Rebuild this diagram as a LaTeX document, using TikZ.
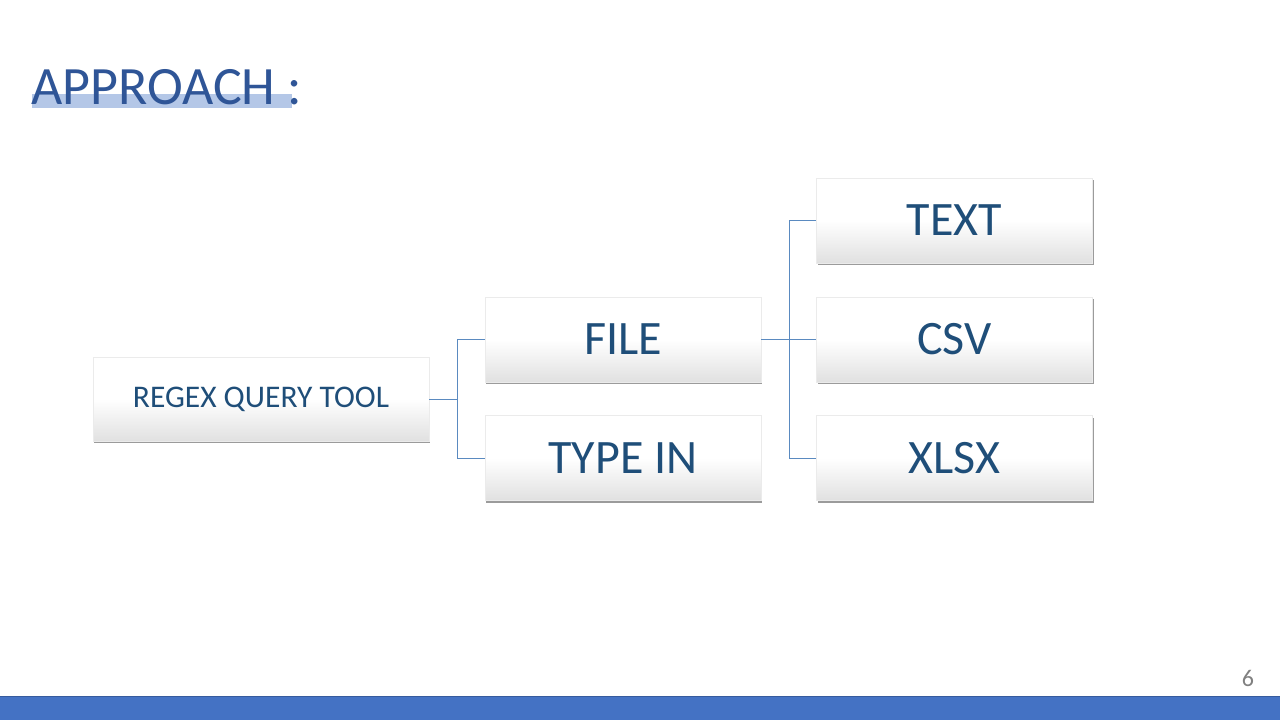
\documentclass[tikz,border=0pt]{standalone}
\usepackage{fontspec}
\setmainfont{Carlito}
\usetikzlibrary{shadows}
\definecolor{titleblue}{HTML}{2F5597}
\definecolor{hlblue}{HTML}{B4C7E7}
\definecolor{boxtext}{HTML}{1F4E79}
\definecolor{linkblue}{HTML}{5A8AC0}
\definecolor{barblue}{HTML}{4472C4}
\tikzset{
  box/.style={draw=black!8, line width=0.4pt, top color=white, bottom color=black!12,
    middle color=white, shading angle=0,
    drop shadow={opacity=0.6, shadow xshift=1.2pt, shadow yshift=-2.2pt, fill=black!65},
    minimum width=276pt, minimum height=85pt, inner sep=0pt, text=boxtext,
    font=\fontsize{48}{50}\selectfont},
  smallbox/.style={box, minimum width=336pt, minimum height=84pt, font=\fontsize{31.5}{33}\selectfont},
  link/.style={draw=linkblue, line width=1pt}
}
\begin{document}
\begin{tikzpicture}[x=1pt,y=-1pt]
\useasboundingbox[fill=white] (0,0) rectangle (1280,720);
% title
\fill[hlblue] (32,94) rectangle (292,108);
\node[anchor=base west, inner sep=0pt, text=titleblue, font=\fontsize{54}{56}\selectfont] (title) at (31,104) {APPROACH :};
% boxes
\node[smallbox] (regex) at (261,399) {REGEX QUERY TOOL};
\node[box] (file) at (623,339.5) {FILE};
\node[box] (typein) at (623,458) {TYPE IN};
\node[box] (text) at (954.5,220.5) {TEXT};
\node[box] (csv) at (954.5,339.5) {CSV};
\node[box] (xlsx) at (954.5,458) {XLSX};
% connectors
\coordinate (j1) at (457,399);
\coordinate (j2) at (789,339.5);
\draw[link] (regex.east) -- (j1) |- (file.west);
\draw[link] (j1) |- (typein.west);
\draw[link] (file.east) -- (j2) |- (text.west);
\draw[link] (j2) -- (csv.west);
\draw[link] (j2) |- (xlsx.west);
% footer
\fill[barblue] (0,696) rectangle (1280,720);
\draw[barblue!80!black, line width=0.6pt] (0,696) -- (1280,696);
\node[text=black!50, font=\fontsize{24}{26}\selectfont, inner sep=0pt] (page) at (1248,678) {6};
\end{tikzpicture}
\end{document}
